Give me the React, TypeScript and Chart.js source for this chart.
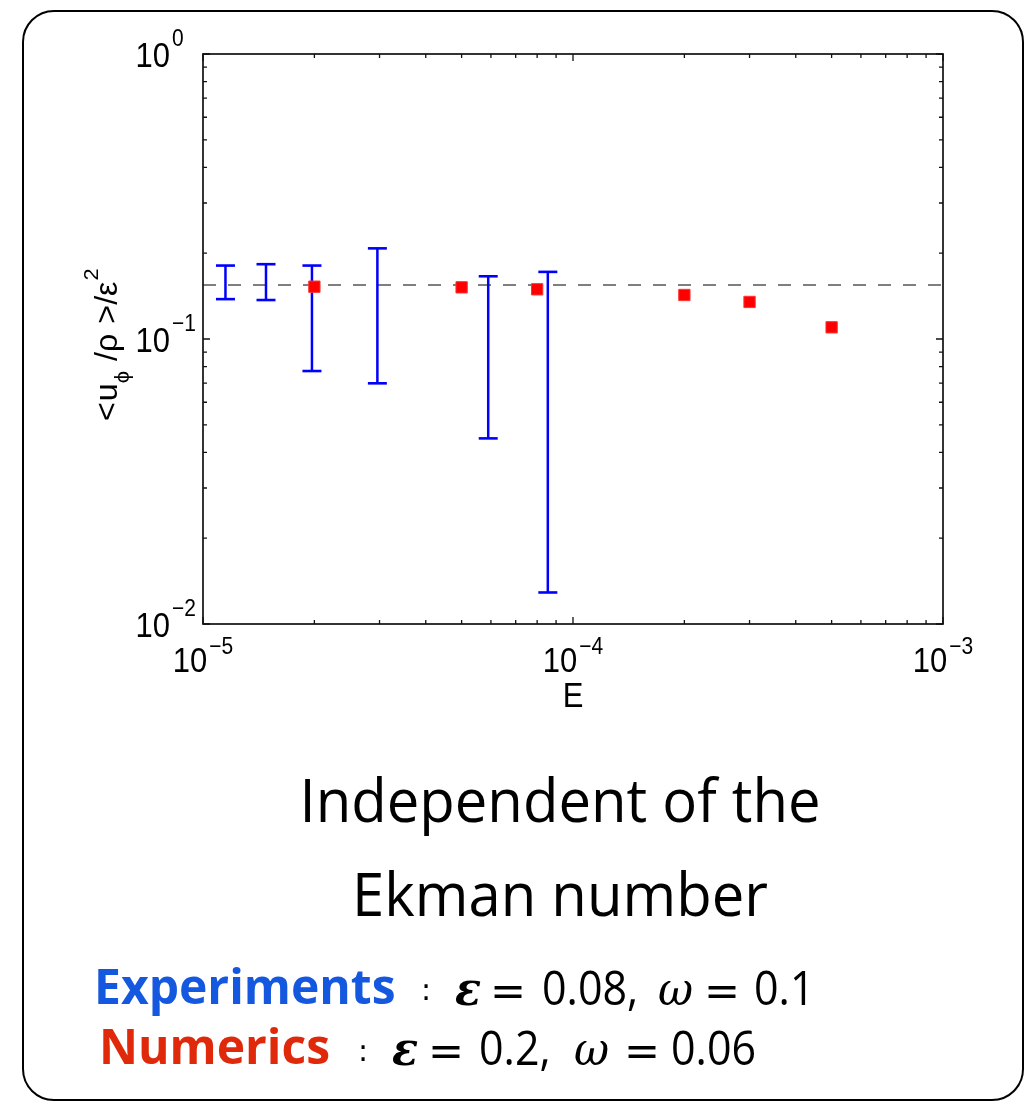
import React, { useEffect, useRef } from "react";
import { Chart, registerables } from "chart.js";

Chart.register(...registerables);

// ---- data ----
const expE = [1.15e-5, 1.48e-5, 1.97e-5, 2.96e-5, 5.9e-5, 8.55e-5];
const expHigh = [0.181, 0.183, 0.181, 0.208, 0.166, 0.172];
const expLow = [0.138, 0.137, 0.0772, 0.0699, 0.0448, 0.0129];
const numE = [2e-5, 5e-5, 8e-5, 2e-4, 3e-4, 5e-4];
const numVal = [0.1526, 0.1518, 0.1494, 0.1427, 0.1349, 0.1099];
const refVal = 0.1547;
const xTickExp = [-5, -4, -3];
const yTickExp = [-2, -1, 0];
const xTitle = "E";
const captionLines = ["Independent of the", "Ekman number"];

const SANS = '"Liberation Sans", Arial, Helvetica, sans-serif';
const STRETCH = 1.12;

function sText(ctx: CanvasRenderingContext2D, t: string, x: number, y: number, font: string) {
  ctx.save();
  ctx.font = font;
  ctx.translate(x, y);
  ctx.scale(1, STRETCH);
  ctx.textAlign = "left";
  ctx.textBaseline = "alphabetic";
  ctx.fillText(t, 0, 0);
  ctx.restore();
}

const axesPlugin = {
  id: "matlabAxes",
  afterDatasetsDraw(chart: any) {
    const { ctx, chartArea: a, scales } = chart;
    const xs = scales.x;
    const ys = scales.y;
    ctx.save();
    ctx.strokeStyle = "#111";
    ctx.lineWidth = 1.7;
    ctx.strokeRect(a.left, a.top, a.right - a.left, a.bottom - a.top);
    ctx.lineWidth = 1.3;
    const majL = 7;
    const minL = 4;
    ctx.beginPath();
    for (let i = 0; i < xTickExp.length; i++) {
      const e = xTickExp[i];
      for (let m = 1; m < 10; m++) {
        if (i === xTickExp.length - 1 && m > 1) break;
        const px = xs.getPixelForValue(m * Math.pow(10, e));
        const L = m === 1 ? majL : minL;
        ctx.moveTo(px, a.bottom);
        ctx.lineTo(px, a.bottom - L);
        ctx.moveTo(px, a.top);
        ctx.lineTo(px, a.top + L);
      }
    }
    for (let i = 0; i < yTickExp.length; i++) {
      const e = yTickExp[i];
      for (let m = 1; m < 10; m++) {
        if (i === yTickExp.length - 1 && m > 1) break;
        const py = ys.getPixelForValue(m * Math.pow(10, e));
        const L = m === 1 ? majL : minL;
        ctx.moveTo(a.left, py);
        ctx.lineTo(a.left + L, py);
        ctx.moveTo(a.right, py);
        ctx.lineTo(a.right - L, py);
      }
    }
    ctx.stroke();

    ctx.fillStyle = "#000";
    const mainF = `31px ${SANS}`;
    const supF = `21px ${SANS}`;
    // y tick labels
    for (const e of yTickExp) {
      const py = ys.getPixelForValue(Math.pow(10, e));
      ctx.font = mainF;
      const w = ctx.measureText("10").width;
      sText(ctx, "10", a.left - 33 - w, py + 12.5, mainF);
      sText(ctx, e < 0 ? "\u2212" + Math.abs(e) : String(e), a.left - 31, py - 8, supF);
    }
    // x tick labels
    for (const e of xTickExp) {
      const px = xs.getPixelForValue(Math.pow(10, e));
      const sup = e < 0 ? "\u2212" + Math.abs(e) : String(e);
      ctx.font = mainF;
      const w10 = ctx.measureText("10").width;
      ctx.font = supF;
      const ws = ctx.measureText(sup).width;
      const total = w10 + 2 + ws;
      const x0 = px - total / 2;
      sText(ctx, "10", x0, a.bottom + 48, mainF);
      sText(ctx, sup, x0 + w10 + 2, a.bottom + 30, supF);
    }
    // x title
    ctx.font = mainF;
    const wE = ctx.measureText(xTitle).width;
    sText(ctx, xTitle, (a.left + a.right) / 2 - wE / 2, a.bottom + 83, mainF);

    // y title (rotated)
    const segs = [
      { t: "<", f: mainF, dy: 0, gap: 1 },
      { t: "u", f: mainF, dy: 0, gap: 0 },
      { t: "\u03d5", f: supF, dy: 12, gap: 1 },
      { t: " /", f: mainF, dy: 0, gap: 0 },
      { t: "\u03c1", f: mainF, dy: 0, gap: 1 },
      { t: " >/", f: mainF, dy: 0, gap: 0 },
      { t: "\u03b5", f: mainF, dy: 0, gap: 1 },
      { t: "2", f: supF, dy: -19, gap: 0 },
    ];
    ctx.save();
    ctx.translate(117, 421);
    ctx.rotate(-Math.PI / 2);
    ctx.scale(1.04, 1);
    let cx = 0;
    for (const s of segs) {
      ctx.font = s.f;
      ctx.fillText(s.t, cx, s.dy);
      cx += ctx.measureText(s.t).width + s.gap;
    }
    ctx.restore();
    ctx.restore();
  },
};

type TokProps = {
  x: number;
  base: number;
  size: number;
  family: string;
  k: number;
  color?: string;
  weight?: number | string;
  italic?: boolean;
  sy?: number;
  children: React.ReactNode;
};

function Tok({ x, base, size, family, k, color = "#000", weight = 400, italic = false, sy = 1, children }: TokProps) {
  return (
    <div
      style={{
        position: "absolute",
        left: x,
        top: base - k * size,
        fontSize: size,
        lineHeight: `${size}px`,
        fontFamily: family,
        fontWeight: weight as any,
        fontStyle: italic ? "italic" : "normal",
        color,
        whiteSpace: "nowrap",
        transform: `scaleY(${sy})`,
        transformOrigin: `0px ${k * size}px`,
      }}
    >
      {children}
    </div>
  );
}

const OPEN = '"Open Sans", "DejaVu Sans", sans-serif';
const DJS = '"DejaVu Sans", sans-serif';
const DJSERIF = '"DejaVu Serif", serif';
const K_OPEN = 0.888;
const K_DJ = 0.846;

export default function App() {
  const ref = useRef<HTMLCanvasElement | null>(null);
  useEffect(() => {
    if (!ref.current) return;
    const datasets: any[] = [
      {
        label: "Numerics",
        data: numE.map((x, i) => ({ x, y: numVal[i] })),
        showLine: false,
        pointStyle: "rect",
        pointRadius: 8,
        pointBackgroundColor: "#ff0000",
        pointBorderColor: "#ff3333",
        pointBorderWidth: 1,
      },
      ...expE.map((x, i) => ({
        label: "Experiments",
        data: [
          { x, y: expLow[i] },
          { x, y: expHigh[i] },
        ],
        showLine: true,
        borderColor: "#0000ff",
        borderWidth: 2.5,
        pointStyle: "line",
        pointRadius: 9.5,
        pointBorderColor: "#0000ff",
        pointBackgroundColor: "#0000ff",
        pointBorderWidth: 2.6,
      })),
      {
        label: "reference",
        data: [
          { x: Math.pow(10, xTickExp[0]), y: refVal },
          { x: Math.pow(10, xTickExp[xTickExp.length - 1]), y: refVal },
        ],
        showLine: true,
        borderColor: "#7f7f7f",
        borderWidth: 1.8,
        borderDash: [13, 12],
        pointRadius: 0,
      },
    ];
    const chart = new Chart(ref.current, {
      type: "scatter",
      data: { datasets },
      options: {
        responsive: false,
        animation: false,
        events: [],
        layout: { padding: { left: 203, top: 54, right: 87, bottom: 477 } },
        plugins: { legend: { display: false }, tooltip: { enabled: false } },
        scales: {
          x: {
            type: "logarithmic",
            display: false,
            min: Math.pow(10, xTickExp[0]),
            max: Math.pow(10, xTickExp[xTickExp.length - 1]),
          },
          y: {
            type: "logarithmic",
            display: false,
            min: Math.pow(10, yTickExp[0]),
            max: Math.pow(10, yTickExp[yTickExp.length - 1]),
          },
        },
      },
      plugins: [axesPlugin],
    } as any);
    return () => chart.destroy();
  }, []);

  const capStyle = (base: number): React.CSSProperties => ({
    position: "absolute",
    left: 60,
    width: 1000,
    top: base - K_OPEN * 58,
    textAlign: "center",
    fontFamily: OPEN,
    fontSize: 58,
    lineHeight: "58px",
    color: "#000",
    transform: "scaleY(1.04)",
    transformOrigin: `0px ${K_OPEN * 58}px`,
  });

  return (
    <div
      style={{
        position: "absolute",
        left: 0,
        top: 0,
        width: 1030,
        height: 1101,
        overflow: "hidden",
        background: "#fff",
      }}
    >
      <div
        style={{
          position: "absolute",
          left: 22,
          top: 10,
          width: 1002,
          height: 1091,
          boxSizing: "border-box",
          border: "2.8px solid #000",
          borderRadius: 32,
        }}
      />
      <canvas ref={ref} width={1030} height={1101} style={{ position: "absolute", left: 0, top: 0 }} />
      <div style={capStyle(823)}>{captionLines[0]}</div>
      <div style={capStyle(917)}>{captionLines[1]}</div>

      <Tok x={94} base={1005} size={48} family={OPEN} k={K_OPEN} weight={700} color="#1558e0">Experiments</Tok>
      <Tok x={421} base={1000} size={30} family={DJS} k={K_DJ}>:</Tok>
      <Tok x={455} base={1005} size={43} family={DJSERIF} k={K_DJ} weight={700} italic sy={1.08}>ε</Tok>
      <Tok x={490} base={1005} size={43} family={DJS} k={K_DJ}>=</Tok>
      <Tok x={542} base={1005} size={43} family={OPEN} k={K_OPEN} sy={1.12}>0.08,</Tok>
      <Tok x={658} base={1005} size={43} family={DJSERIF} k={K_DJ} italic sy={1.08}>ω</Tok>
      <Tok x={704} base={1005} size={43} family={DJS} k={K_DJ}>=</Tok>
      <Tok x={754} base={1005} size={43} family={OPEN} k={K_OPEN} sy={1.12}>0.1</Tok>

      <Tok x={99} base={1065} size={48} family={OPEN} k={K_OPEN} weight={700} color="#e0290a">Numerics</Tok>
      <Tok x={358} base={1061} size={30} family={DJS} k={K_DJ}>:</Tok>
      <Tok x={392} base={1065} size={43} family={DJSERIF} k={K_DJ} weight={700} italic sy={1.08}>ε</Tok>
      <Tok x={428} base={1065} size={43} family={DJS} k={K_DJ}>=</Tok>
      <Tok x={479} base={1065} size={43} family={OPEN} k={K_OPEN} sy={1.12}>0.2,</Tok>
      <Tok x={574} base={1065} size={43} family={DJSERIF} k={K_DJ} italic sy={1.08}>ω</Tok>
      <Tok x={624} base={1065} size={43} family={DJS} k={K_DJ}>=</Tok>
      <Tok x={671} base={1065} size={43} family={OPEN} k={K_OPEN} sy={1.12}>0.06</Tok>
    </div>
  );
}
